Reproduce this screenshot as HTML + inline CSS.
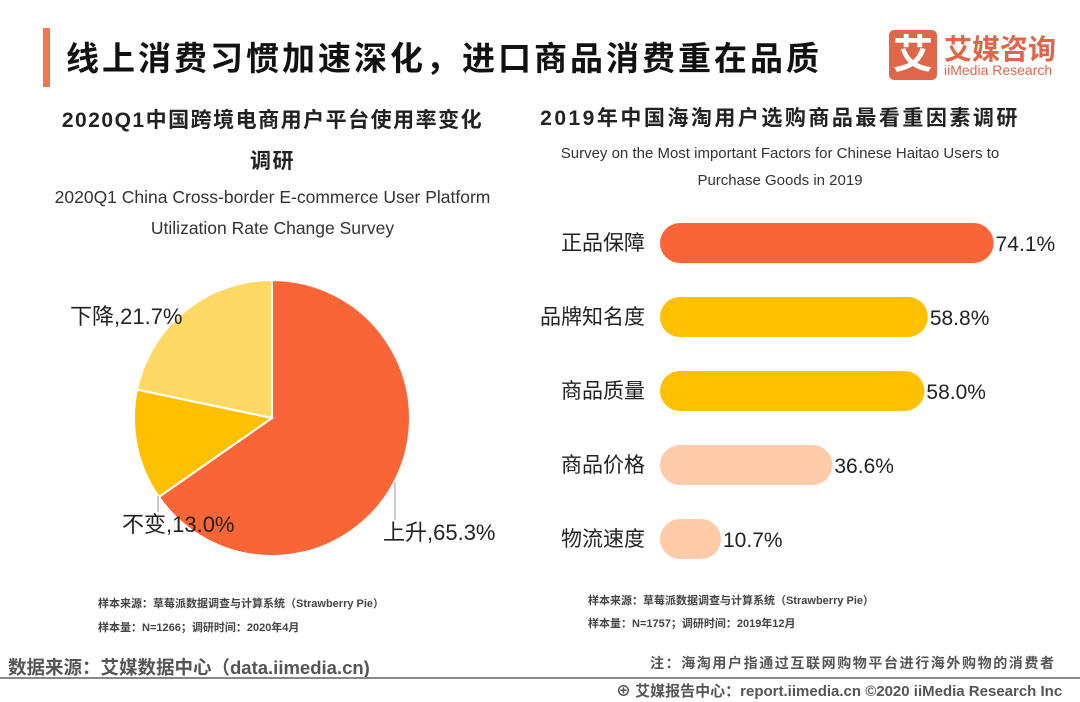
<!DOCTYPE html>
<html><head><meta charset="utf-8"><style>
body{margin:0;width:1080px;height:702px;background:#fff;overflow:hidden;position:relative;font-family:"Liberation Sans","Noto Sans CJK SC",sans-serif;color:#222}
.a{position:absolute;white-space:nowrap}
</style></head><body>
<div class="a" style="left:43px;top:28px;width:7px;height:59px;background:#F4764B"></div>
<div class="a" style="left:66px;top:32px;font-size:33px;letter-spacing:3px;font-weight:bold;color:#111">线上消费习惯加速深化，进口商品消费重在品质</div>
<div class="a" style="left:889px;top:30px;width:48px;height:50px;background:#E0664A;border-radius:5px;color:#fff;font-size:40px;font-weight:bold;text-align:center;line-height:50px">艾</div>
<div class="a" style="left:944px;top:28px;font-size:28px;font-weight:bold;color:#E0664A">艾媒咨询</div>
<div class="a" style="left:944px;top:62px;font-size:14px;color:#E0664A">iiMedia Research</div>

<div class="a" style="left:40px;top:100px;width:465px;text-align:center;font-size:21px;letter-spacing:1.5px;font-weight:bold;line-height:41px">2020Q1中国跨境电商用户平台使用率变化<br>调研</div>
<div class="a" style="left:40px;top:182px;width:465px;text-align:center;white-space:normal;font-size:17.5px;line-height:31px;color:#333">2020Q1 China Cross-border E-commerce User Platform Utilization Rate Change Survey</div>

<div class="a" style="left:520px;top:104px;width:520px;text-align:center;font-size:21px;letter-spacing:2.5px;font-weight:bold;line-height:30px">2019年中国海淘用户选购商品最看重因素调研</div>
<div class="a" style="left:540px;top:140px;width:480px;text-align:center;white-space:normal;font-size:15px;line-height:27px;color:#333">Survey on the Most important Factors for Chinese Haitao Users to Purchase Goods in 2019</div>

<svg class="a" style="left:0;top:0" width="1080" height="702" id="chart"></svg>

<div class="a" style="left:98px;top:595px;font-size:11px;font-weight:bold;color:#444">样本来源：草莓派数据调查与计算系统（Strawberry Pie）</div>
<div class="a" style="left:98px;top:619px;font-size:11px;font-weight:bold;color:#444">样本量：N=1266；调研时间：2020年4月</div>
<div class="a" style="left:588px;top:592px;font-size:11px;font-weight:bold;color:#444">样本来源：草莓派数据调查与计算系统（Strawberry Pie）</div>
<div class="a" style="left:588px;top:615px;font-size:11px;font-weight:bold;color:#444">样本量：N=1757；调研时间：2019年12月</div>
<div class="a" style="left:8px;top:654px;font-size:18.5px;font-weight:bold;color:#555">数据来源：艾媒数据中心（data.iimedia.cn)</div>
<div class="a" style="left:650px;top:653px;font-size:14px;letter-spacing:1.6px;font-weight:bold;color:#555">注：海淘用户指通过互联网购物平台进行海外购物的消费者</div>
<div class="a" style="left:0;top:677px;width:1080px;height:2px;background:#888"></div>
<div class="a" style="left:616px;top:680px;font-size:15px;font-weight:bold;color:#555">⊕ 艾媒报告中心：report.iimedia.cn  ©2020  iiMedia Research  Inc</div>

<script>
const pieLabels=['上升','不变','下降'];
const pieValues=[65.3,13.0,21.7];
const barCats=['正品保障','品牌知名度','商品质量','商品价格','物流速度'];
const barValues=[74.1,58.8,58.0,36.6,10.7];
const NS='http://www.w3.org/2000/svg';
const svg=document.getElementById('chart');
function mk(t,a){const e=document.createElementNS(NS,t);for(const k in a)e.setAttribute(k,a[k]);svg.appendChild(e);return e;}
const cx=272,cy=418,r=138,pieColors=['#F96536','#FFC000','#FFD966'];
const tot=pieValues.reduce((a,b)=>a+b,0);
function pt(frac,rr){const a=frac*2*Math.PI;return [cx+rr*Math.sin(a),cy-rr*Math.cos(a)];}
let acc=0;
pieValues.forEach((v,i)=>{
  const s=acc/tot,e=(acc+v)/tot;acc+=v;
  const p0=pt(s,r),p1=pt(e,r);
  const p=mk('path',{d:`M${cx},${cy}L${p0[0]},${p0[1]}A${r},${r} 0 ${e-s>0.5?1:0} 1 ${p1[0]},${p1[1]}Z`,fill:pieColors[i],stroke:'#fff','stroke-width':2});
  
  
});
const lblPos=[[383,540,'start'],[122,532,'start'],[70,324,'start']];
pieValues.forEach((v,i)=>{
  const t=mk('text',{x:lblPos[i][0],y:lblPos[i][1],'font-size':22,fill:'#222','text-anchor':lblPos[i][2]});
  t.textContent=pieLabels[i]+','+v.toFixed(1)+'%';
  
  
});
mk('line',{x1:395,y1:482,x2:395,y2:520,stroke:'#999','stroke-width':1});
mk('line',{x1:158,y1:496,x2:158,y2:512,stroke:'#999','stroke-width':1});
const x0=660,y0=243,step=74,bh=40,barColors=['#F96536','#FFC000','#FFC000','#FFCBA8','#FFCBA8'];
function bw(v){return 15+v*4.3;}
barValues.forEach((v,i)=>{
  const y=y0+i*step,w=bw(v);
  const b=mk('rect',{x:x0,y:y-bh/2,width:w,height:bh,rx:bh/2,fill:barColors[i]});
  
  
  const c=mk('text',{x:645,y:y+7,'font-size':21,fill:'#222','text-anchor':'end'});
  c.textContent=barCats[i];
  
  
  const t=mk('text',{x:x0+w+2,y:y+8,'font-size':21,fill:'#222'});
  t.textContent=v.toFixed(1)+'%';
  
  
});
</script>
</body></html>
